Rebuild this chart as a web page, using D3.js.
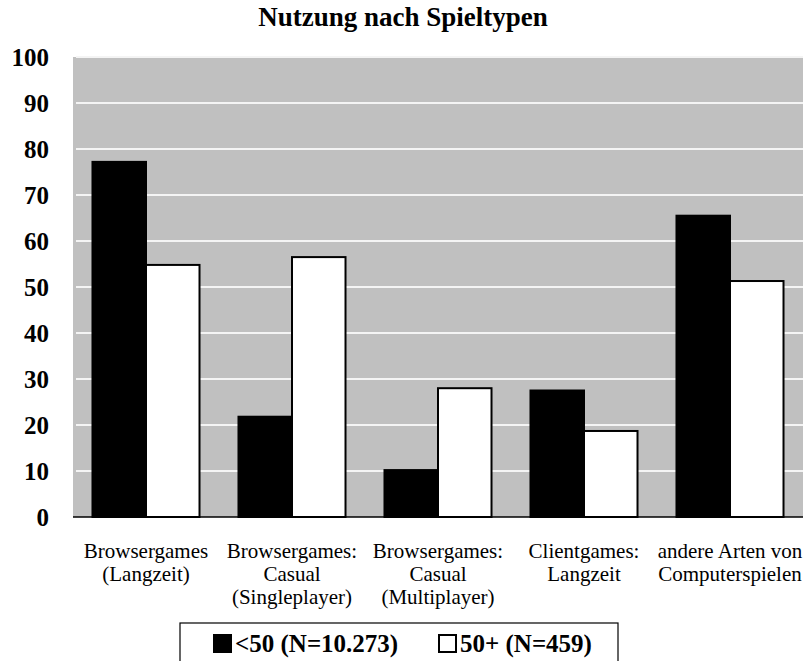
<!DOCTYPE html>
<html>
<head>
<meta charset="utf-8">
<script src="https://cdn.jsdelivr.net/npm/d3@7"></script>
<style>
  body { margin: 0; background: #fff; }
  svg { display: block; font-family: "Liberation Serif", serif; }
</style>
</head>
<body>
<svg id="chart" width="807" height="661"></svg>
<script>
// chart data
var categories = [
  ['Browsergames', '(Langzeit)'],
  ['Browsergames:', 'Casual', '(Singleplayer)'],
  ['Browsergames:', 'Casual', '(Multiplayer)'],
  ['Clientgames:', 'Langzeit'],
  ['andere Arten von', 'Computerspielen']
];
var seriesNames = ['<50 (N=10.273)', '50+ (N=459)'];
var under50 = [77.2, 21.8, 10.2, 27.5, 65.5];
var over50 = [54.8, 56.5, 28.0, 18.7, 51.3];
var yTicks = [0, 10, 20, 30, 40, 50, 60, 70, 80, 90, 100];

var svg = d3.select('#chart');
var plot = { left: 73, right: 803, top: 57, bottom: 517 };

var y = d3.scaleLinear().domain([0, 100]).range([plot.bottom, plot.top]);
var x = d3.scaleBand()
  .domain(d3.range(categories.length))
  .range([plot.left, plot.right])
  .paddingInner(0.267)
  .paddingOuter(0.1335);
var xs = d3.scaleBand().domain([0, 1]).range([0, x.bandwidth()]);

// title
svg.append('text')
  .attr('x', 403)
  .attr('y', 26)
  .attr('text-anchor', 'middle')
  .style('font-size', '27px')
  .style('font-weight', 'bold')
  .text('Nutzung nach Spieltypen');

// plot background
svg.append('rect')
  .attr('x', plot.left)
  .attr('y', plot.top)
  .attr('width', plot.right - plot.left)
  .attr('height', plot.bottom - plot.top)
  .attr('fill', '#c0c0c0');

// gridlines
svg.append('g')
  .selectAll('line')
  .data(yTicks.filter(function(d) { return d > 0; }))
  .enter().append('line')
  .attr('x1', plot.left + 3)
  .attr('x2', plot.right)
  .attr('y1', function(d) { return y(d); })
  .attr('y2', function(d) { return y(d); })
  .attr('stroke', '#f4f4f4')
  .attr('stroke-width', 2);

// y tick labels
svg.append('g')
  .selectAll('text')
  .data(yTicks)
  .enter().append('text')
  .attr('x', 49)
  .attr('y', function(d) { return y(d); })
  .attr('dy', '0.36em')
  .attr('text-anchor', 'end')
  .style('font-size', '25px')
  .style('font-weight', 'bold')
  .text(function(d) { return d; });

// bars
var series = [under50, over50];
var fills = ['#000', '#fff'];
series.forEach(function(values, s) {
  svg.append('g')
    .selectAll('rect')
    .data(values)
    .enter().append('rect')
    .attr('x', function(d, i) { return x(i) + xs(s); })
    .attr('y', function(d) { return y(d); })
    .attr('width', xs.bandwidth())
    .attr('height', function(d) { return plot.bottom - y(d); })
    .attr('fill', fills[s])
    .attr('stroke', '#000')
    .attr('stroke-width', 2);
});

// baseline
svg.append('line')
  .attr('x1', plot.left)
  .attr('x2', plot.right)
  .attr('y1', plot.bottom)
  .attr('y2', plot.bottom)
  .attr('stroke', '#000')
  .attr('stroke-width', 1.5);

// category labels
var labels = svg.append('g')
  .selectAll('text')
  .data(categories)
  .enter().append('text')
  .attr('text-anchor', 'middle')
  .style('font-size', '21px');
labels.selectAll('tspan')
  .data(function(d, i) { return d.map(function(t) { return { t: t, i: i }; }); })
  .enter().append('tspan')
  .attr('x', function(d) { return x(d.i) + x.bandwidth() / 2; })
  .attr('y', function(d, j) { return 558 + j * 23; })
  .text(function(d) { return d.t; });

// legend
svg.append('rect')
  .attr('x', 180)
  .attr('y', 623)
  .attr('width', 438)
  .attr('height', 60)
  .attr('fill', '#fff')
  .attr('stroke', '#000')
  .attr('stroke-width', 1.2);

var legendX = [213, 438];
seriesNames.forEach(function(name, s) {
  svg.append('rect')
    .attr('x', legendX[s] + 1)
    .attr('y', 635)
    .attr('width', 17)
    .attr('height', 17)
    .attr('fill', fills[s])
    .attr('stroke', '#000')
    .attr('stroke-width', 2);
  svg.append('text')
    .attr('x', legendX[s] + 22)
    .attr('y', 652)
    .style('font-size', '25px')
    .style('font-weight', 'bold')
    .text(name);
});
</script>
</body>
</html>
